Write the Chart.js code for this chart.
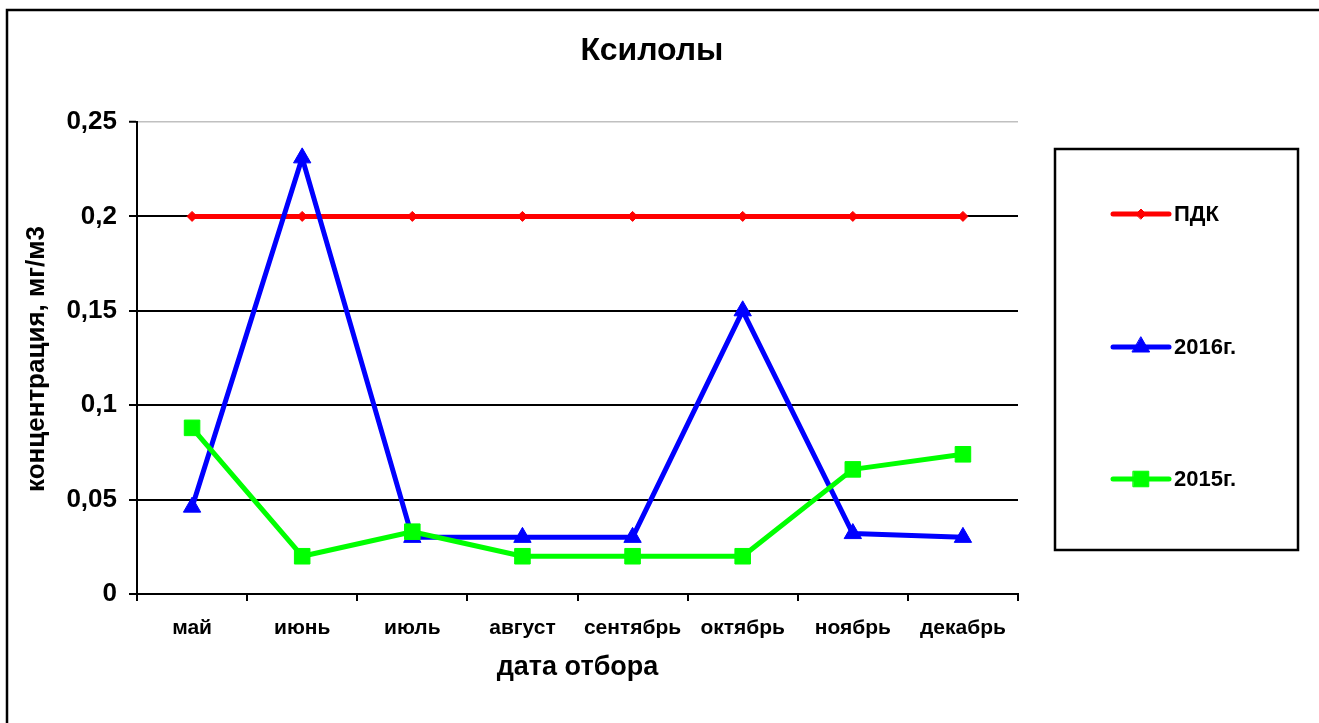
<!DOCTYPE html>
<html>
<head>
<meta charset="utf-8">
<script src="https://cdn.jsdelivr.net/npm/chart.js@4/dist/chart.umd.min.js"></script>
<style>
  html, body { margin: 0; padding: 0; background: #fff; }
  #wrap { width: 1319px; height: 723px; position: relative; }
</style>
</head>
<body>
<div id="wrap"><canvas id="c" width="1319" height="723"></canvas></div>
<script>
const chartTitle = 'Ксилолы';
const xAxisTitle = 'дата отбора';
const yAxisTitle = 'концентрация, мг/м3';
const categories = ['май', 'июнь', 'июль', 'август', 'сентябрь', 'октябрь', 'ноябрь', 'декабрь'];
const seriesNames = ['ПДК', '2016г.', '2015г.'];
const pdkValues = [0.2, 0.2, 0.2, 0.2, 0.2, 0.2, 0.2, 0.2];
const values2016 = [0.046, 0.231, 0.03, 0.03, 0.03, 0.15, 0.032, 0.03];
const values2015 = [0.088, 0.02, 0.033, 0.02, 0.02, 0.02, 0.066, 0.074];
const yTickValues = [0, 0.05, 0.1, 0.15, 0.2, 0.25];
const yTickLabels = ['0', '0,05', '0,1', '0,15', '0,2', '0,25'];

const FONT = '"Liberation Sans", Arial, sans-serif';

function drawMarker(ctx, style, r, x, y) {
  ctx.save();
  ctx.beginPath();
  if (style === 'rect') {
    const s = Math.SQRT1_2 * r;
    ctx.rect(x - s, y - s, 2 * s, 2 * s);
  } else if (style === 'triangle') {
    ctx.moveTo(x, y - r);
    ctx.lineTo(x + Math.sin(2 * Math.PI / 3) * r, y + r / 2);
    ctx.lineTo(x - Math.sin(2 * Math.PI / 3) * r, y + r / 2);
    ctx.closePath();
  } else {
    ctx.moveTo(x - r, y);
    ctx.lineTo(x, y - r);
    ctx.lineTo(x + r, y);
    ctx.lineTo(x, y + r);
    ctx.closePath();
  }
  ctx.fill();
  ctx.stroke();
  ctx.restore();
}

const decorPlugin = {
  id: 'decor',
  beforeDraw(chart) {
    const ctx = chart.ctx;
    ctx.save();
    ctx.fillStyle = '#fff';
    ctx.fillRect(0, 0, chart.width, chart.height);
    ctx.restore();
  },
  afterDraw(chart) {
    const ctx = chart.ctx;
    ctx.save();
    // outer frame (top and left visible)
    ctx.strokeStyle = '#000';
    ctx.lineWidth = 2.5;
    ctx.beginPath();
    ctx.moveTo(7, chart.height + 5);
    ctx.lineTo(7, 10);
    ctx.lineTo(chart.width + 5, 10);
    ctx.stroke();
    // title
    ctx.fillStyle = '#000';
    ctx.font = 'bold 32px ' + FONT;
    ctx.textAlign = 'center';
    ctx.textBaseline = 'middle';
    ctx.fillText(chartTitle, 652, 51);
    // y axis title
    ctx.save();
    ctx.translate(37, 359);
    ctx.rotate(-Math.PI / 2);
    ctx.font = 'bold 26px ' + FONT;
    ctx.textAlign = 'center';
    ctx.textBaseline = 'middle';
    ctx.fillText(yAxisTitle, 0, 0);
    ctx.restore();
    // legend box
    ctx.strokeStyle = '#000';
    ctx.lineWidth = 2.5;
    ctx.strokeRect(1055, 149, 243, 401);
    const ys = [214, 347, 479];
    chart.data.datasets.forEach((ds, i) => {
      const y = ys[i];
      ctx.strokeStyle = ds.borderColor;
      ctx.lineWidth = ds.borderWidth;
      ctx.lineCap = 'round';
      ctx.beginPath();
      ctx.moveTo(1113, y);
      ctx.lineTo(1169, y);
      ctx.stroke();
      ctx.fillStyle = ds.pointBackgroundColor;
      ctx.strokeStyle = ds.pointBorderColor;
      ctx.lineWidth = 1;
      drawMarker(ctx, ds.pointStyle, ds.pointRadius, 1141, y);
      ctx.fillStyle = '#000';
      ctx.font = 'bold 22px ' + FONT;
      ctx.textAlign = 'left';
      ctx.textBaseline = 'middle';
      ctx.fillText(ds.label, 1174, y + 1);
    });
    ctx.restore();
  }
};

const chart = new Chart(document.getElementById('c'), {
  type: 'line',
  data: {
    labels: categories,
    datasets: [
      {
        label: seriesNames[0], data: pdkValues, order: 3,
        borderColor: '#ff0000', backgroundColor: '#ff0000',
        pointBackgroundColor: '#ff0000', pointBorderColor: '#ff0000',
        borderWidth: 5, pointStyle: 'rectRot', pointRadius: 5, pointBorderWidth: 1,
        tension: 0, fill: false
      },
      {
        label: seriesNames[1], data: values2016, order: 2,
        borderColor: '#0000ff', backgroundColor: '#0000ff',
        pointBackgroundColor: '#0000ff', pointBorderColor: '#0000ff',
        borderWidth: 5, pointStyle: 'triangle', pointRadius: 10, pointBorderWidth: 1,
        tension: 0, fill: false
      },
      {
        label: seriesNames[2], data: values2015, order: 1,
        borderColor: '#00ff00', backgroundColor: '#00ff00',
        pointBackgroundColor: '#00ff00', pointBorderColor: '#00ff00',
        borderWidth: 5, pointStyle: 'rect', pointRadius: 11, pointBorderWidth: 1,
        tension: 0, fill: false
      }
    ]
  },
  options: {
    responsive: false,
    animation: false,
    devicePixelRatio: 1,
    layout: { autoPadding: false, padding: { left: 0, top: 122, right: 301, bottom: 0 } },
    plugins: {
      legend: { display: false },
      title: { display: false },
      tooltip: { enabled: false }
    },
    elements: { line: { borderJoinStyle: 'round', borderCapStyle: 'round' } },
    scales: {
      x: {
        type: 'category',
        offset: true,
        afterFit: (s) => { s.height = 129; },
        grid: {
          offset: true,
          drawOnChartArea: false,
          drawTicks: true,
          tickLength: 7,
          tickColor: '#000',
          tickWidth: 2,
          color: '#000',
          lineWidth: 2
        },
        border: { display: true, color: '#000', width: 2 },
        ticks: {
          color: '#000',
          padding: 15,
          maxRotation: 0,
          autoSkip: false,
          font: { family: FONT, size: 21, weight: 'bold' }
        },
        title: {
          display: true,
          text: xAxisTitle,
          color: '#000',
          font: { family: FONT, size: 27, weight: 'bold' },
          padding: { top: 0, bottom: 39 }
        }
      },
      y: {
        min: 0,
        max: 0.25,
        afterFit: (s) => { s.width = 137; },
        afterBuildTicks: (s) => { s.ticks = yTickValues.map(v => ({ value: v })); },
        grid: {
          color: (c) => (c.tick && Math.abs(c.tick.value - 0.25) < 1e-9) ? '#c0c0c0' : '#000',
          lineWidth: (c) => (c.tick && Math.abs(c.tick.value - 0.25) < 1e-9) ? 1.5 : 2,
          tickColor: '#000',
          tickWidth: 2,
          tickLength: 8,
          drawTicks: true
        },
        border: { display: true, color: '#000', width: 2 },
        ticks: {
          color: '#000',
          padding: 12,
          font: { family: FONT, size: 26, weight: 'bold' },
          callback: (v) => {
            const i = yTickValues.findIndex(t => Math.abs(t - v) < 1e-9);
            return i >= 0 ? yTickLabels[i] : '';
          }
        },
        title: { display: false, text: yAxisTitle }
      }
    }
  },
  plugins: [decorPlugin]
});
</script>
</body>
</html>
